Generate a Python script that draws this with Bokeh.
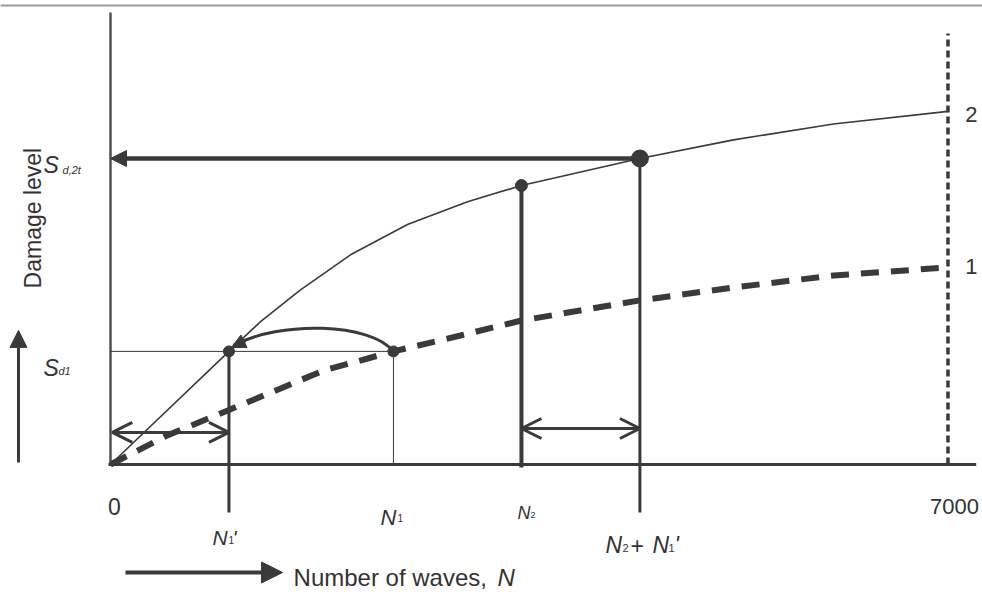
from bokeh.plotting import figure
from bokeh.models import Arrow, NormalHead, OpenHead, Range1d
from bokeh.core.properties import value
from bokeh.embed import file_html
from bokeh.resources import INLINE

# ---------------- data (schematic values) ----------------
N1p = 990          # N1'
N1 = 2365          # N1
N2 = 3435          # N2
N2N1p = N2 + N1p   # N2 + N1'
N_MAX = 7000
S_d1 = 3.77
S_d2t = 10.2
S_N2 = 9.3         # damage on curve 2 at N2
Y_TOP = 15.07      # top of the damage axis
Y_DASH_TOP = 14.37 # top of the 7000 dashed limit line
Y_TICK_LOW = -1.6  # lower end of the N1' and N2+N1' marker lines

# curve 2 (thin solid) and curve 1 (thick dashed)
curve2_x = [0, N1p, 1254, 1588, 2006, 2482, 2984, N2, N2N1p, 5207, 6043, N_MAX]
curve2_y = [0, S_d1, 4.76, 5.82, 6.99, 8.0, 8.76, S_N2, S_d2t, 10.82, 11.35, 11.77]
curve1_x = [0, 475, 980, 1280, 1780, N1, 2925, N2, N2N1p, 5205, 6045, N_MAX]
curve1_y = [0, 0.97, 1.8, 2.3, 3.13, S_d1, 4.3, 4.8, 5.47, 5.9, 6.3, 6.57]

X0, X1 = -919.4, 7288.6
Y0, Y1 = -4.267, 15.467

INK = "#3a3a3a"
TXT = "#333333"
FONT = value("Liberation Sans")

p = figure(width=982, height=592,
           x_range=Range1d(X0, X1), y_range=Range1d(Y0, Y1),
           output_backend="svg", toolbar_location=None,
           x_axis_location=None, y_axis_location=None,
           min_border=0, outline_line_color=None,
           background_fill_color="white", border_fill_color="white")
p.grid.visible = False

# page top rule
p.line([X0, X1], [15.3, 15.3], line_color="#9a9a9a", line_width=2)

# axes
p.line([0, 0], [0, Y_TOP], line_color="#505050", line_width=2.5)
p.line([-17, 7236], [0, 0], line_color=INK, line_width=3)
p.line([N_MAX, N_MAX], [0, Y_DASH_TOP], line_color=INK, line_width=3.5, line_dash="7 4")

# thin guide lines
p.line([0, N1], [S_d1, S_d1], line_color=INK, line_width=1)
p.line([N1, N1], [0, S_d1], line_color=INK, line_width=1)

# curves
p.line(curve2_x, curve2_y, line_color=INK, line_width=1.6)
p.line(curve1_x, curve1_y, line_color=INK, line_width=6, line_dash="18 12")

# marker lines
p.line([N1p, N1p], [Y_TICK_LOW, S_d1], line_color=INK, line_width=3)
p.line([N2, N2], [-0.1, S_N2], line_color=INK, line_width=4)
p.line([N2N1p, N2N1p], [Y_TICK_LOW, S_d2t], line_color=INK, line_width=3)

# curved transfer arrow N1 -> N1'
p.bezier(x0=[N1], y0=[S_d1], x1=[1028], y1=[3.97],
         cx0=[2173], cy0=[4.73], cx1=[1421], cy1=[4.8],
         line_color=INK, line_width=3)
p.add_layout(Arrow(end=NormalHead(size=14, fill_color=INK, line_color=INK),
                   x_start=1128, y_start=4.13, x_end=1011, y_end=3.9,
                   line_color=INK, line_width=3))

# horizontal arrow to S_d,2t
p.add_layout(Arrow(end=NormalHead(size=16, fill_color=INK, line_color=INK),
                   x_start=N2N1p, y_start=S_d2t, x_end=0, y_end=S_d2t,
                   line_color=INK, line_width=4.5))

# double arrows
for xs, xe, yy in [(15, N1p, 1.07), (N2, N2N1p, 1.2)]:
    p.add_layout(Arrow(start=OpenHead(size=20, line_color=INK, line_width=3),
                       end=OpenHead(size=20, line_color=INK, line_width=3),
                       x_start=xs, y_start=yy, x_end=xe, y_end=yy,
                       line_color=INK, line_width=3))

# dots
p.scatter([N1p, N1], [S_d1, S_d1], size=11, color=INK)
p.scatter([N2], [S_N2], size=12, color=INK)
p.scatter([N2N1p], [S_d2t], size=17, color=INK)

# axis direction arrows
p.add_layout(Arrow(end=NormalHead(size=17, fill_color=INK, line_color=INK),
                   x_start=-769, y_start=0.07, x_end=-769, y_end=4.47,
                   line_color=INK, line_width=3))
p.add_layout(Arrow(end=NormalHead(size=21, fill_color=INK, line_color=INK),
                   x_start=125, y_start=-3.6, x_end=1438, y_end=-3.6,
                   line_color=INK, line_width=4))

def txt(x, y, t, size, style="normal", align="left", baseline="alphabetic", angle=0.0):
    p.text(x=[x], y=[y], text=[t], text_font=FONT, text_font_size=value(size),
           text_font_style=style, text_align=align, text_baseline=baseline,
           text_color=TXT, angle=angle)

# y labels
txt(-560, 9.97, "S", "23px", "italic")
txt(-401, 9.83, "d,2t", "11px", "italic")
txt(-560, 3.2, "S", "23px", "italic")
txt(-435, 3.1, "d1", "11px", "italic")
txt(-644, 5.87, "Damage level", "23px", angle=1.5708)

# x labels
txt(33, -1.4, "0", "23px", align="center", baseline="middle")
txt(2257, -1.77, "N", "22px", "italic")
txt(2399, -1.8, "1", "10px")
txt(853, -2.43, "N", "21px", "italic")
txt(986, -2.53, "1", "10px")
txt(1020, -2.43, "'", "21px", "italic")
txt(3402, -1.63, "N", "18px", "italic")
txt(3510, -1.7, "2", "9px")
txt(4137, -2.7, "N", "23px", "italic")
txt(4279, -2.77, "2", "11px")
txt(4346, -2.7, "+", "23px")
txt(4530, -2.7, "N", "23px", "italic")
txt(4664, -2.77, "1", "11px")
txt(4714, -2.7, "'", "23px", "italic")
txt(7054, -1.4, "7000", "22px", align="center", baseline="middle")
txt(1530, -3.77, "Number of waves, ", "24px")
txt(3235, -3.77, "N", "24px", "italic")

# curve labels
txt(7196, 11.67, "2", "22px", align="center", baseline="middle")
txt(7196, 6.6, "1", "22px", align="center", baseline="middle")

open("out.html", "w").write(file_html(p, INLINE))
